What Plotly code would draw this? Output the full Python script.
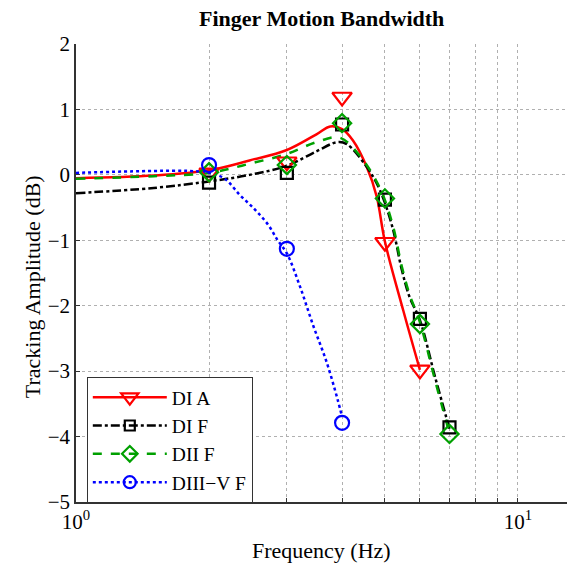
import plotly.graph_objects as go

# ---- data ----
series_names = ["DI A", "DI F", "DII F", "DIII\u2212V F"]

# measured points (markers)
dia_f = [2, 3, 4, 5, 6]
dia_y = [0.03, 0.20, 1.19, -1.03, -2.98]
dif_f = [2, 3, 4, 5, 6, 7]
dif_y = [-0.12, 0.03, 0.77, -0.38, -2.20, -3.86]
diif_f = [2, 3, 4, 5, 6, 7]
diif_y = [0.04, 0.15, 0.79, -0.36, -2.28, -3.96]
diiiv_f = [2, 3, 4]
diiiv_y = [0.15, -1.13, -3.79]

# fitted curves (lines)
dia_cf = [1.0, 1.5, 2.0, 2.47, 3.0, 3.5, 3.76, 4.0, 4.23, 4.55, 4.79, 5.0, 5.5, 6.0]
dia_cy = [-0.05, -0.01, 0.07, 0.22, 0.38, 0.62, 0.74, 0.70, 0.53, 0.12, -0.33, -1.02, -2.07, -2.98]
dif_cf = [1.0, 1.5, 2.0, 2.47, 3.0, 3.5, 3.9, 4.1, 4.55, 4.87, 5.2, 5.46, 5.68, 6.0, 6.5, 7.0]
dif_cy = [-0.28, -0.20, -0.10, 0.0, 0.14, 0.36, 0.50, 0.47, 0.12, -0.23, -0.80, -1.45, -1.86, -2.22, -3.10, -3.88]
diif_cf = [1.0, 1.5, 2.0, 2.47, 3.0, 3.5, 3.95, 4.4, 4.87, 5.2, 5.46, 5.68, 6.0, 6.5, 7.0]
diif_cy = [-0.06, -0.02, 0.03, 0.17, 0.32, 0.50, 0.57, 0.28, -0.20, -0.75, -1.40, -1.82, -2.25, -3.15, -3.95]
diiiv_cf = [1.0, 1.5, 1.8, 2.0, 2.17, 2.35, 2.54, 2.72, 2.86, 3.0, 3.21, 3.44, 3.69, 3.91, 4.0]
diiiv_cy = [0.03, 0.06, 0.06, 0.03, -0.06, -0.31, -0.53, -0.76, -1.0, -1.2, -1.7, -2.3, -2.86, -3.44, -3.70]

x_tickvals = [1, 2, 3, 4, 5, 6, 7, 8, 9, 10]
x_ticktext = ["10<sup>0</sup>", "", "", "", "", "", "", "", "", "10<sup>1</sup>"]
y_tickvals = [-5, -4, -3, -2, -1, 0, 1, 2]
y_ticktext = ["\u22125", "\u22124", "\u22123", "\u22122", "\u22121", "0", "1", "2"]

colors = ["#ff0000", "#000000", "#00a000", "#0000ff"]
dashes = ["solid", "dashdot", "dash", "dot"]
symbols = ["triangle-down-open", "square-open", "diamond-open", "circle-open"]
msizes = [17, 12, 14, 14]

marker_sets = [(dia_f, dia_y), (dif_f, dif_y), (diif_f, diif_y), (diiiv_f, diiiv_y)]
curve_sets = [(dia_cf, dia_cy), (dif_cf, dif_cy), (diif_cf, diif_cy), (diiiv_cf, diiiv_cy)]

FONT = "Liberation Serif, Times New Roman, serif"

fig = go.Figure()
for i in range(4):
    cf, cy = curve_sets[i]
    fig.add_trace(go.Scatter(x=cf, y=cy, mode="lines", showlegend=False,
                             line=dict(color=colors[i], width=2.5, dash=dashes[i], shape="spline", smoothing=1.0),
                             hoverinfo="skip"))
for i in range(4):
    mf, my = marker_sets[i]
    fig.add_trace(go.Scatter(x=mf, y=my, mode="markers", showlegend=False,
                             marker=dict(symbol=symbols[i], size=msizes[i], color=colors[i],
                                         line=dict(color=colors[i], width=2.2))))
for i in range(4):
    fig.add_trace(go.Scatter(x=[None], y=[None], mode="lines+markers", name=series_names[i],
                             line=dict(color=colors[i], width=2.5, dash=dashes[i]),
                             marker=dict(symbol=symbols[i], size=msizes[i] - 2, color=colors[i],
                                         line=dict(color=colors[i], width=2.2))))

fig.update_layout(
    width=567, height=566,
    margin=dict(l=76, r=0, t=44, b=64),
    paper_bgcolor="white", plot_bgcolor="white",
    font=dict(family=FONT, size=21, color="black"),
    showlegend=True,
    legend=dict(x=0.022, y=0.273, xanchor="left", yanchor="top",
                bgcolor="white", bordercolor="#333333", borderwidth=1,
                font=dict(family=FONT, size=19.5, color="black"),
                tracegroupgap=0, itemwidth=74),
    annotations=[
        dict(text="<b>Finger Motion Bandwidth</b>", xref="paper", yref="paper",
             x=0.5, y=1.0, yshift=26, showarrow=False, xanchor="center", yanchor="middle",
             font=dict(family=FONT, size=22, color="black")),
        dict(text="Tracking Amplitude (dB)", xref="paper", yref="paper",
             x=0, xshift=-44, y=0.469, textangle=-90, showarrow=False,
             xanchor="center", yanchor="middle",
             font=dict(family=FONT, size=22, color="black")),
        dict(text="Frequency (Hz)", xref="paper", yref="paper",
             x=0.5, y=0, yshift=-48, showarrow=False, xanchor="center", yanchor="middle",
             font=dict(family=FONT, size=22, color="black")),
    ],
)
fig.update_xaxes(type="log", range=[0, 1.111],
                 tickvals=x_tickvals, ticktext=x_ticktext,
                 showgrid=True, gridcolor="#b0b0b0", griddash="dot", gridwidth=1,
                 ticks="inside", ticklen=4, tickcolor="#333333",
                 showline=True, linecolor="#333333", linewidth=1.5,
                 tickfont=dict(family=FONT, size=21), zeroline=False)
fig.update_yaxes(range=[-5, 2], tickvals=y_tickvals, ticktext=y_ticktext,
                 showgrid=True, gridcolor="#b0b0b0", griddash="dot", gridwidth=1,
                 ticks="inside", ticklen=4, tickcolor="#333333",
                 showline=True, linecolor="#333333", linewidth=1.5,
                 tickfont=dict(family=FONT, size=21), zeroline=False)

fig.write_html("out.html")
